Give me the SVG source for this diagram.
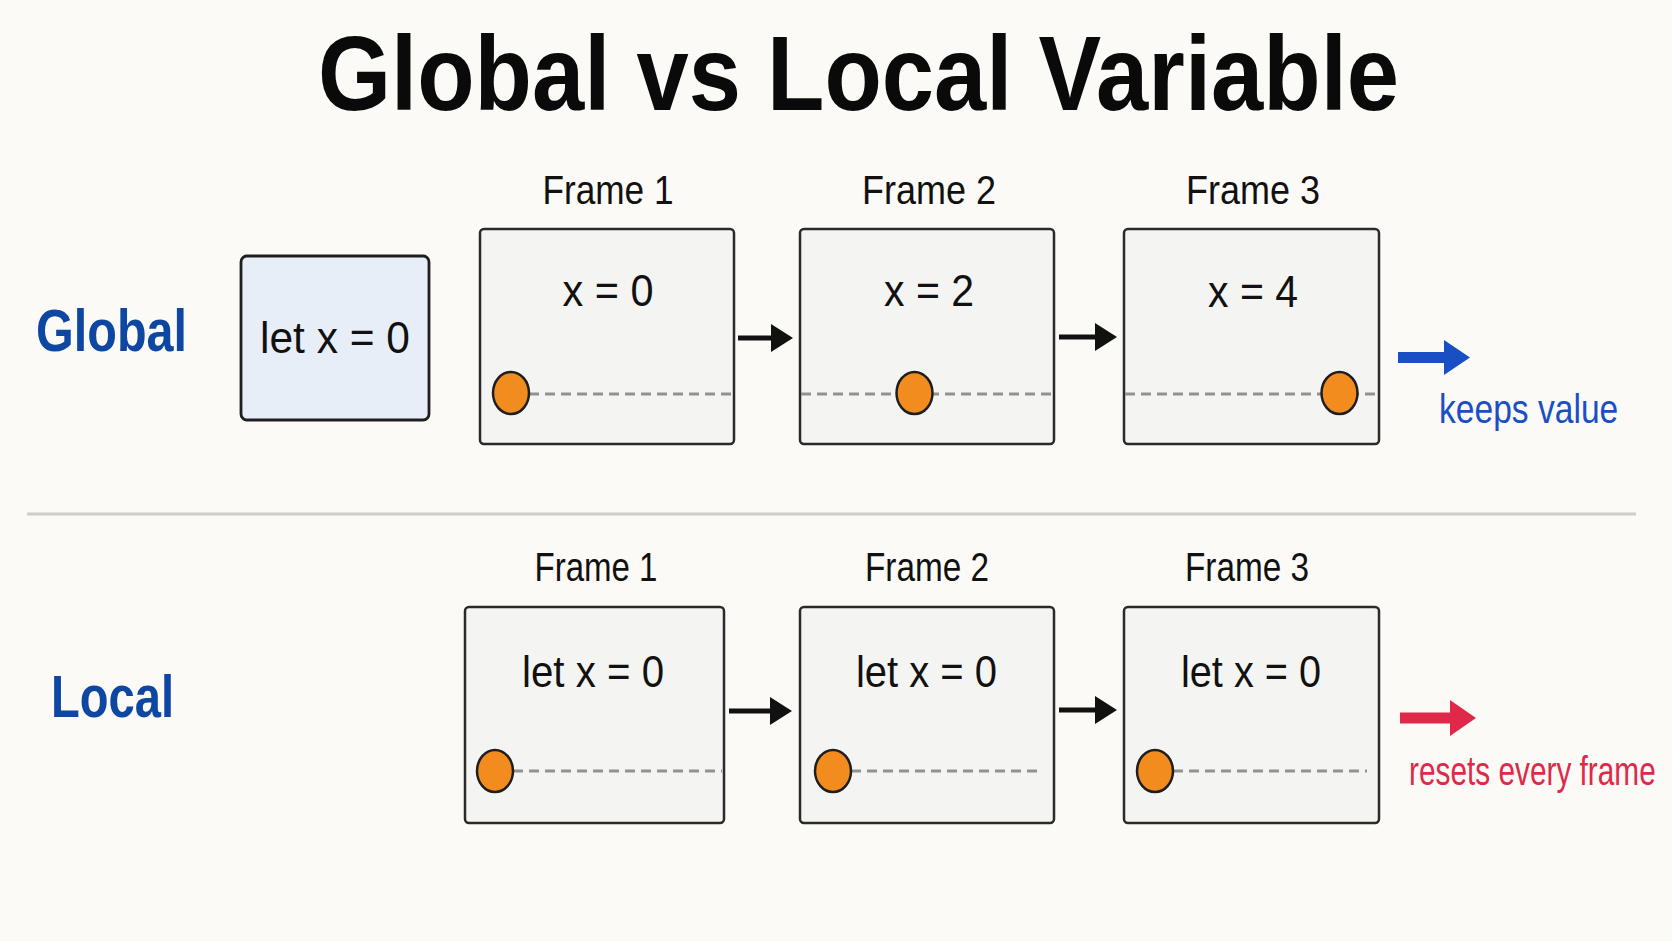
<svg xmlns="http://www.w3.org/2000/svg" width="1672" height="941" viewBox="0 0 1672 941">
  <style>
    .t { font-family: "Liberation Sans", Arial, sans-serif; }
    .title { font-size: 105px; font-weight: bold; fill: #0a0a0a; }
    .sec { font-size: 60px; font-weight: bold; fill: #0d47a1; }
    .flabel { font-size: 40px; fill: #111; }
    .val { font-size: 44px; fill: #111; }
    .frame { fill: #f4f4f2; stroke: #2a2a2a; stroke-width: 2.5; }
    .decl { fill: #e8eef8; stroke: #1e1e1e; stroke-width: 2.8; }
    .track { stroke: #929292; stroke-width: 3; stroke-dasharray: 10 6; fill: none; }
    .ball { fill: #f28c1e; stroke: #1e1e1e; stroke-width: 2.5; }
    .conn { stroke: #111; stroke-width: 5; fill: none; }
  </style>
  <defs>
    <marker id="ah-black" markerUnits="userSpaceOnUse" markerWidth="22" markerHeight="30" refX="0" refY="15" orient="auto">
      <path d="M0,1 L22,15 L0,29 z" fill="#111"/>
    </marker>
    <marker id="ah-blue" markerUnits="userSpaceOnUse" markerWidth="26" markerHeight="36" refX="0" refY="18" orient="auto">
      <path d="M0,0.5 L26,18 L0,35.5 z" fill="#1a4fc4"/>
    </marker>
    <marker id="ah-red" markerUnits="userSpaceOnUse" markerWidth="26" markerHeight="37" refX="0" refY="18.5" orient="auto">
      <path d="M0,0.5 L26,18.5 L0,36.5 z" fill="#e0284a"/>
    </marker>
  </defs>

  <rect x="0" y="0" width="1672" height="941" fill="#fbfaf6"/>

  <g id="title">
    <text class="t title" x="858.5" y="110" text-anchor="middle" textLength="1081" lengthAdjust="spacingAndGlyphs">Global vs Local Variable</text>
  </g>

  <g id="label-global">
    <text class="t sec" x="36" y="351" textLength="151" lengthAdjust="spacingAndGlyphs">Global</text>
  </g>
  <g id="label-local">
    <text class="t sec" x="51" y="717" textLength="123" lengthAdjust="spacingAndGlyphs">Local</text>
  </g>

  <g id="divider">
    <line x1="27" y1="514" x2="1636" y2="514" stroke="#cfcccb" stroke-width="3"/>
  </g>

  <g id="global-decl">
    <rect class="decl" x="241" y="256" width="188" height="164" rx="6"/>
    <text class="t val" x="335" y="353" text-anchor="middle" textLength="150" lengthAdjust="spacingAndGlyphs">let x = 0</text>
  </g>

  <!-- Global row -->
  <g id="g-frame1">
    <text class="t flabel" x="608" y="204" text-anchor="middle" textLength="131" lengthAdjust="spacingAndGlyphs">Frame 1</text>
    <rect class="frame" x="480" y="229" width="254" height="215" rx="4"/>
    <text class="t val" x="608" y="306" text-anchor="middle" textLength="91" lengthAdjust="spacingAndGlyphs">x = 0</text>
    <line class="track" x1="529" y1="394" x2="733" y2="394"/>
    <ellipse class="ball" cx="511" cy="393" rx="18" ry="21"/>
  </g>
  <g id="g-frame2">
    <text class="t flabel" x="929" y="204" text-anchor="middle" textLength="134" lengthAdjust="spacingAndGlyphs">Frame 2</text>
    <rect class="frame" x="800" y="229" width="254" height="215" rx="4"/>
    <text class="t val" x="929" y="306" text-anchor="middle" textLength="90" lengthAdjust="spacingAndGlyphs">x = 2</text>
    <line class="track" x1="801" y1="394" x2="1053" y2="394"/>
    <ellipse class="ball" cx="914.5" cy="393" rx="18" ry="21"/>
  </g>
  <g id="g-frame3">
    <text class="t flabel" x="1253" y="204" text-anchor="middle" textLength="134" lengthAdjust="spacingAndGlyphs">Frame 3</text>
    <rect class="frame" x="1124" y="229" width="255" height="215" rx="4"/>
    <text class="t val" x="1253" y="307" text-anchor="middle" textLength="90" lengthAdjust="spacingAndGlyphs">x = 4</text>
    <line class="track" x1="1125" y1="394" x2="1378" y2="394"/>
    <ellipse class="ball" cx="1339.5" cy="393" rx="18" ry="21"/>
  </g>
  <g id="g-keeps">
    <text class="t" transform="translate(1439,423) scale(0.84,1)" x="0" y="0" font-size="40" fill="#1a4fc4">keeps value</text>
  </g>

  <!-- Local row -->
  <g id="l-frame1">
    <text class="t flabel" x="596" y="581" text-anchor="middle" textLength="123" lengthAdjust="spacingAndGlyphs">Frame 1</text>
    <rect class="frame" x="465" y="607" width="259" height="216" rx="4"/>
    <text class="t val" x="593" y="687" text-anchor="middle" textLength="142" lengthAdjust="spacingAndGlyphs">let x = 0</text>
    <line class="track" x1="513" y1="771" x2="722" y2="771"/>
    <ellipse class="ball" cx="495" cy="771" rx="18" ry="21"/>
  </g>
  <g id="l-frame2">
    <text class="t flabel" x="927" y="581" text-anchor="middle" textLength="124" lengthAdjust="spacingAndGlyphs">Frame 2</text>
    <rect class="frame" x="800" y="607" width="254" height="216" rx="4"/>
    <text class="t val" x="926.5" y="687" text-anchor="middle" textLength="141" lengthAdjust="spacingAndGlyphs">let x = 0</text>
    <line class="track" x1="851" y1="771" x2="1040" y2="771"/>
    <ellipse class="ball" cx="833" cy="771" rx="18" ry="21"/>
  </g>
  <g id="l-frame3">
    <text class="t flabel" x="1247" y="581" text-anchor="middle" textLength="124" lengthAdjust="spacingAndGlyphs">Frame 3</text>
    <rect class="frame" x="1124" y="607" width="255" height="216" rx="4"/>
    <text class="t val" x="1251" y="687" text-anchor="middle" textLength="140" lengthAdjust="spacingAndGlyphs">let x = 0</text>
    <line class="track" x1="1173" y1="771" x2="1367" y2="771"/>
    <ellipse class="ball" cx="1155" cy="771" rx="18" ry="21"/>
  </g>
  <g id="l-resets">
    <text class="t" transform="translate(1409,785) scale(0.745,1)" x="0" y="0" font-size="40" fill="#e0284a">resets every frame</text>
  </g>

  <g id="connectors">
    <line class="conn" x1="738" y1="338" x2="771" y2="338" marker-end="url(#ah-black)"/>
    <line class="conn" x1="1059" y1="337" x2="1095" y2="337" marker-end="url(#ah-black)"/>
    <line class="conn" x1="729" y1="711" x2="770" y2="711" marker-end="url(#ah-black)"/>
    <line class="conn" x1="1059" y1="710" x2="1095" y2="710" marker-end="url(#ah-black)"/>
    <line x1="1398" y1="357.5" x2="1444" y2="357.5" stroke="#1a4fc4" stroke-width="11" marker-end="url(#ah-blue)"/>
    <line x1="1400" y1="718" x2="1450" y2="718" stroke="#e0284a" stroke-width="11" marker-end="url(#ah-red)"/>
  </g>
</svg>
